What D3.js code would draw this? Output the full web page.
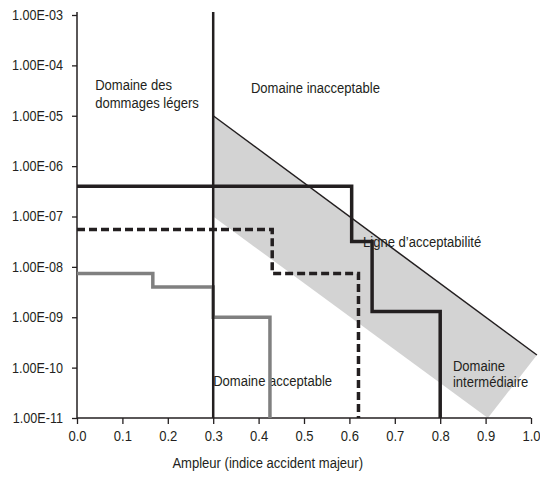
<!DOCTYPE html>
<html lang="fr">
<head>
<meta charset="UTF-8">
<title>Domaines d'acceptabilité</title>
<script src="https://d3js.org/d3.v7.min.js"></script>
<style>
  body { margin: 0; background: #fff; }
  text { font-family: "Liberation Sans", Arial, sans-serif; fill: #231f20; }
</style>
</head>
<body>
<div id="chart"></div>
<script>
// axes
const xTicks = [0, 0.1, 0.2, 0.3, 0.4, 0.5, 0.6, 0.7, 0.8, 0.9, 1.0];
const yTicks = [1e-3, 1e-4, 1e-5, 1e-6, 1e-7, 1e-8, 1e-9, 1e-10, 1e-11];
const yTickLabels = ["1.00E-03", "1.00E-04", "1.00E-05", "1.00E-06", "1.00E-07",
                     "1.00E-08", "1.00E-09", "1.00E-10", "1.00E-11"];
const xTitle = "Ampleur (indice accident majeur)";

// courbes en escalier (x de début de palier, niveau)
const solidX = [0, 0.605, 0.65, 0.8];
const solidY = [4e-7, 3.2e-8, 1.3e-9, 1e-11];
const dashX = [0, 0.43, 0.62];
const dashY = [5.5e-8, 7.4e-9, 1e-11];
const grayX = [0, 0.167, 0.3, 0.425];
const grayY = [7.4e-9, 4e-9, 1e-9, 1e-11];

// zone intermédiaire et ligne d'acceptabilité
const bandX = [0.3, 1.013, 0.905, 0.3];
const bandY = [1e-5, 1.78e-10, 1e-11, 1e-7];
const acceptX = [0.3, 1.013];
const acceptY = [1e-5, 1.78e-10];
const limitX = 0.3;

const width = 540, height = 480;
const x = d3.scaleLinear().domain([0, 1]).range([77, 531]);
const y = d3.scaleLog().domain([1e-11, 1e-3]).range([418, 15]);
const ink = "#231f20";
const sx = 0.9; // police un peu étroite

const svg = d3.select("#chart").append("svg")
    .attr("width", width).attr("height", height);

const zip = (xs, ys) => xs.map((v, i) => [v, ys[i]]);

// zone grise
svg.append("path")
    .attr("d", d3.line().x(d => x(d[0])).y(d => y(d[1]))(zip(bandX, bandY)) + "Z")
    .attr("fill", "#d3d3d3");

function addText(lines, px, py, dy, anchor) {
  const tx = svg.append("text")
      .attr("transform", `translate(${px},${py}) scale(${sx},1)`)
      .attr("text-anchor", anchor || "start")
      .style("font-size", "14.5px");
  lines.forEach((s, i) => {
    tx.append("tspan").attr("x", 0).attr("dy", i ? dy : 0).text(s);
  });
}

// textes
const labels = [
  {t: ["Domaine des", "dommages légers"], x: 0.04, y: 3.2e-5, dy: 18},
  {t: ["Domaine inacceptable"], x: 0.383, y: 2.8e-5},
  {t: ["Ligne d’acceptabilité"], x: 0.63, y: 2.5e-8},
  {t: ["Domaine acceptable"], x: 0.3, y: 4.3e-11},
  {t: ["Domaine", "intermédiaire"], x: 0.828, y: 8.6e-11, dy: 16}
];
labels.forEach(l => addText(l.t, x(l.x), y(l.y), l.dy));

// axes
const yAxis = d3.axisLeft(y).tickValues(yTicks)
    .tickFormat((d, i) => yTickLabels[i]).tickSize(5).tickPadding(9).tickSizeOuter(0);
const gy = svg.append("g").attr("transform", `translate(${x(0)},0)`).call(yAxis);
gy.select(".domain").remove();
gy.selectAll("line").attr("stroke", ink).attr("stroke-width", 1.3);
gy.selectAll("text").style("font-size", "14px").attr("fill", ink)
    .attr("x", -14 / sx).attr("transform", `scale(${sx},1)`);

const xAxis = d3.axisBottom(x).tickValues(xTicks).tickFormat(d3.format(".1f"))
    .tickSize(6).tickPadding(7).tickSizeOuter(0);
const gx = svg.append("g").attr("transform", `translate(0,${y(1e-11)})`).call(xAxis);
gx.select(".domain").remove();
gx.selectAll("line").attr("stroke", ink).attr("stroke-width", 1.3);
gx.selectAll("text").style("font-size", "14.5px").attr("fill", ink)
    .attr("transform", `scale(${sx},1)`);

svg.append("line")
    .attr("x1", x(0)).attr("x2", x(0)).attr("y1", y(1e-3) - 3).attr("y2", y(1e-11))
    .attr("stroke", ink).attr("stroke-width", 1.5);
svg.append("line")
    .attr("x1", x(0)).attr("x2", x(1)).attr("y1", y(1e-11)).attr("y2", y(1e-11))
    .attr("stroke", ink).attr("stroke-width", 1.5);

addText([xTitle], x(0.42), 468, 0, "middle");

// ligne d'acceptabilité
svg.append("path")
    .attr("d", d3.line().x(d => x(d[0])).y(d => y(d[1]))(zip(acceptX, acceptY)))
    .attr("fill", "none").attr("stroke", ink).attr("stroke-width", 1.5);

// escaliers
const step = d3.line().x(d => x(d[0])).y(d => y(d[1])).curve(d3.curveStepAfter);
svg.append("path").attr("d", step(zip(grayX, grayY)))
    .attr("fill", "none").attr("stroke", "#808080").attr("stroke-width", 3.5);
svg.append("path").attr("d", step(zip(dashX, dashY)))
    .attr("fill", "none").attr("stroke", ink).attr("stroke-width", 3.5)
    .attr("stroke-dasharray", "8,4");
svg.append("path").attr("d", step(zip(solidX, solidY)))
    .attr("fill", "none").attr("stroke", ink).attr("stroke-width", 3.5);

// limite des dommages légers
svg.append("line")
    .attr("x1", x(limitX)).attr("x2", x(limitX)).attr("y1", y(1e-3) - 3).attr("y2", y(1e-11))
    .attr("stroke", ink).attr("stroke-width", 2.5);
</script>
</body>
</html>
